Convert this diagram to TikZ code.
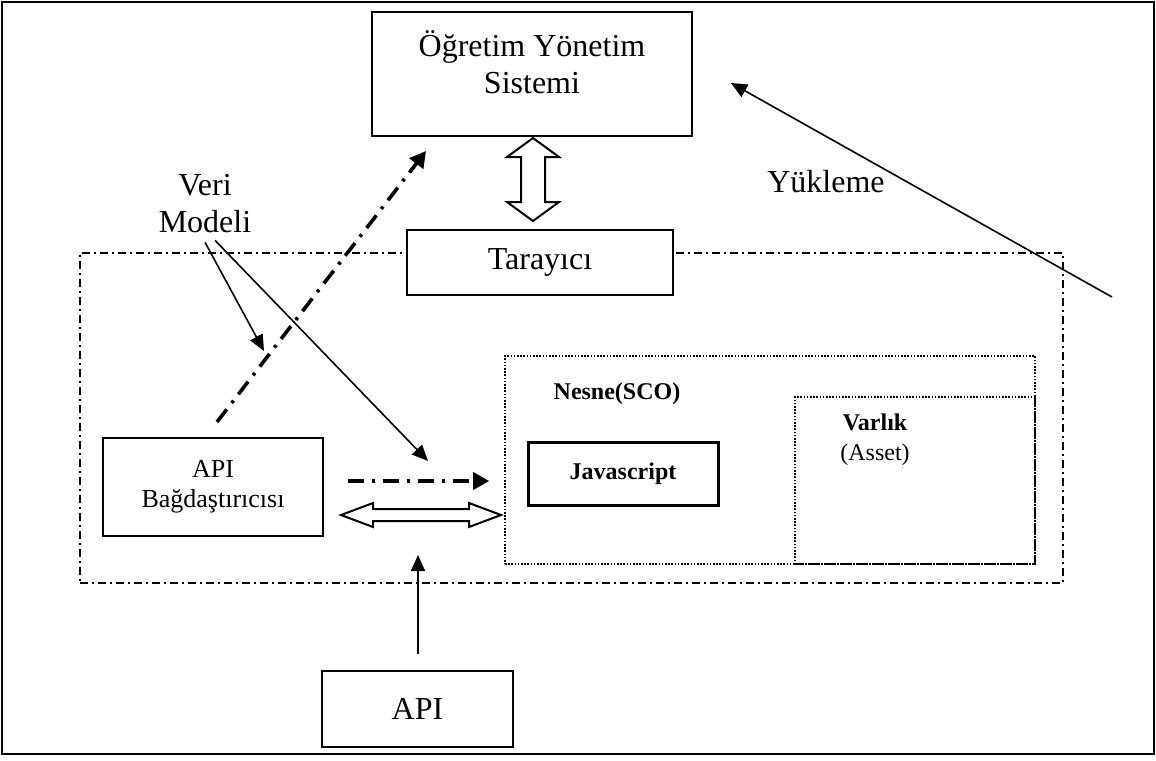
\documentclass[tikz,border=0pt]{standalone}
\usepackage{fontspec}
\setmainfont{Liberation Serif}
\usetikzlibrary{arrows.meta,calc}

\begin{document}
\begin{tikzpicture}[x=0.5pt, y=-0.5pt,
    box/.style={draw, line width=1pt, rectangle, align=center, inner sep=0pt},
    big/.style={font=\fontsize{16}{18.5}\selectfont},
    small/.style={font=\fontsize{13}{15}\selectfont},
    dotbox/.style={draw, line width=0.8pt, dash pattern=on 0.8pt off 0.8pt, inner sep=0pt},
    flow/.style={line width=0.8pt, -{Triangle[length=8pt, width=7pt]}},
    datalink/.style={line width=1.8pt, dash pattern=on 8pt off 4pt on 1.5pt off 4pt, -{Triangle[length=8pt, width=8.5pt]}},
    hollow/.style={draw, line width=1pt, fill=white, line join=miter}]

    \useasboundingbox (0,0) rectangle (1156,760);
    \draw[line width=1pt] (2,2) rectangle (1154,754);

    % browser region
    \node (region) [draw, line width=0.9pt, dash pattern=on 4pt off 2pt on 1pt off 2pt, inner sep=0pt, minimum width=491.5pt, minimum height=165pt] at (571.5,418) {};

    \node (lms) [box, minimum width=160pt, minimum height=62pt] at (532,74) {};
    \node [big, align=center] at (532,62) {Öğretim Yönetim\\Sistemi};
    \node (browser) [box, big, fill=white, minimum width=133pt, minimum height=32.5pt] at (540,262.5) {Tarayıcı};

    \node (nesne) [dotbox, minimum width=265pt, minimum height=104pt] at (770,460) {};
    \node (varlik) [dotbox, minimum width=120pt, minimum height=83.5pt] at (915,480.5) {};
    \node [font=\bfseries\fontsize{12}{14}\selectfont] at (617,394) {Nesne(SCO)};
    \node [align=center, font=\fontsize{12}{15}\selectfont] at (875,440) {\textbf{Varlık}\\(Asset)};
    \node (js) [box, line width=1.5pt, font=\bfseries\fontsize{12}{14}\selectfont, minimum width=95pt, minimum height=31.5pt] at (623,473.5) {Javascript};

    \node (adapter) [box, small, minimum width=110pt, minimum height=49pt] at (213,487) {API\\Bağdaştırıcısı};
    \node (api) [box, big, minimum width=95.5pt, minimum height=38pt] at (417.5,709) {API};

    \node (vm) [big, align=center] at (205,204) {Veri\\Modeli};
    \node (upl) [big] at (826,182) {Yükleme};

    \coordinate (vmtip1) at (264,351);
    \coordinate (vmtip2) at (428,461);
    \coordinate (uplstart) at (1112,297);

    % hollow double arrows
    \draw[hollow] ($(lms.south)+(1,1)$) -- ++(26,19) -- ++(-14,0) -- ++(0,45) -- ++(14,0) -- ++(-26,19)
        -- ++(-26,-19) -- ++(14,0) -- ++(0,-45) -- ++(-14,0) -- cycle;
    \draw[hollow] ($(adapter.east)+(17,28)$) -- ++(32,-12) -- ++(0,6) -- ++(96,0) -- ++(0,-6) -- ++(32,12)
        -- ++(-32,12) -- ++(0,-6) -- ++(-96,0) -- ++(0,6) -- cycle;

    \draw[datalink] ($(adapter.north)+(4,-15)$) -- ($(lms.south west)+(55,14)$);
    \draw[datalink] ($(adapter.east)+(24,-6)$) -- ($(nesne.west)+(-15,21)$);

    \draw[flow] ($(vm.south)+(0,2)$) -- (vmtip1);
    \draw[flow] ($(vm.south)+(10,0)$) -- (vmtip2);
    \draw[flow] (uplstart) -- ($(lms.east)+(38,9)$);
    \draw[flow] ($(api.north)+(0.5,-16)$) -- ++(0,-99);
\end{tikzpicture}
\end{document}
